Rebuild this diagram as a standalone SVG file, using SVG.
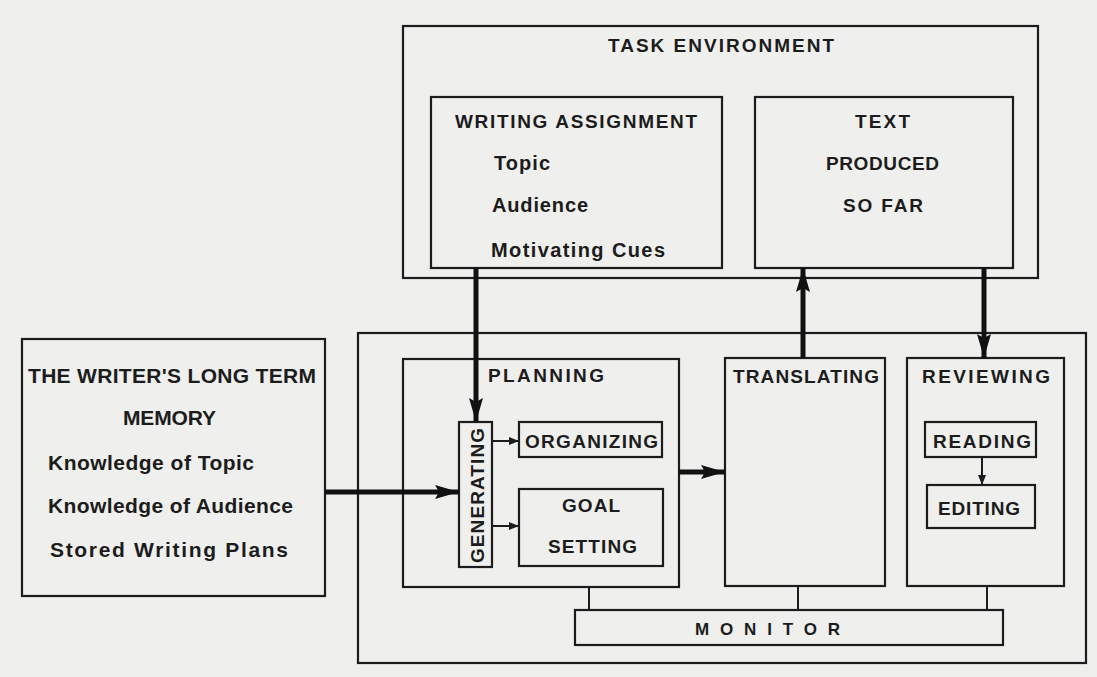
<svg xmlns="http://www.w3.org/2000/svg" width="1097" height="677" viewBox="0 0 1097 677">
<defs>
<style>
.bx{fill:none;stroke:#1c1c1c;stroke-width:2.2}
.t{font-family:"Liberation Sans",Arial,sans-serif;font-weight:bold;fill:#1c1c1c;font-size:19px}
.lc{font-size:20px}
.big{font-size:21px}
.sm{font-size:17px}
.thick{stroke:#111;stroke-width:5;fill:none}
.thin{stroke:#1c1c1c;stroke-width:2;fill:none}
</style>
<marker id="ah" markerUnits="userSpaceOnUse" viewBox="0 0 24 14" markerWidth="24" markerHeight="14" refX="24" refY="7" orient="auto">
<path d="M0,0 L24,7 L0,14 L4,7 z" fill="#111"/>
</marker>
<marker id="as" markerUnits="userSpaceOnUse" viewBox="0 0 10 8" markerWidth="10" markerHeight="8" refX="10" refY="4" orient="auto">
<path d="M0,0 L10,4 L0,8 z" fill="#1c1c1c"/>
</marker>
</defs>
<rect width="1097" height="677" fill="#efefed"/>

<g id="task-environment">
<rect class="bx" x="403" y="26" width="635" height="252"/>
<text class="t" x="608" y="52" textLength="226" lengthAdjust="spacing">TASK ENVIRONMENT</text>
</g>
<g id="writing-assignment">
<rect class="bx" x="431" y="97" width="291" height="171"/>
<text class="t" x="455" y="128" textLength="242" lengthAdjust="spacing">WRITING ASSIGNMENT</text>
<text class="t lc" x="494" y="170" textLength="56" lengthAdjust="spacing">Topic</text>
<text class="t lc" x="492" y="212" textLength="96" lengthAdjust="spacing">Audience</text>
<text class="t lc" x="491" y="257" textLength="174" lengthAdjust="spacing">Motivating Cues</text>
</g>
<g id="text-produced">
<rect class="bx" x="755" y="97" width="258" height="171"/>
<text class="t" x="855" y="128" textLength="55" lengthAdjust="spacing">TEXT</text>
<text class="t" x="826" y="170" textLength="113" lengthAdjust="spacing">PRODUCED</text>
<text class="t" x="843" y="212" textLength="80" lengthAdjust="spacing">SO FAR</text>
</g>
<g id="long-term-memory">
<rect class="bx" x="22" y="339" width="303" height="257"/>
<text class="t big" x="28" y="383" textLength="288" lengthAdjust="spacing">THE WRITER'S LONG TERM</text>
<text class="t big" x="123" y="425" textLength="93" lengthAdjust="spacing">MEMORY</text>
<text class="t big" x="48" y="470" textLength="206" lengthAdjust="spacing">Knowledge of Topic</text>
<text class="t big" x="48" y="513" textLength="245" lengthAdjust="spacing">Knowledge of Audience</text>
<text class="t big" x="50" y="557" textLength="238" lengthAdjust="spacing">Stored Writing Plans</text>
</g>
<g id="writing-process">
<rect class="bx" x="358" y="333" width="728" height="330"/>
</g>
<g id="planning">
<rect class="bx" x="403" y="359" width="276" height="228"/>
<text class="t" x="488" y="382" textLength="116" lengthAdjust="spacing">PLANNING</text>
</g>
<g id="generating">
<rect class="bx" x="459" y="422" width="33" height="145"/>
<text class="t" transform="translate(484,495.5) rotate(-90)" x="0" y="0" text-anchor="middle" textLength="135" lengthAdjust="spacing">GENERATING</text>
</g>
<g id="organizing">
<rect class="bx" x="519" y="422" width="143" height="35"/>
<text class="t" x="525" y="448" textLength="133" lengthAdjust="spacing">ORGANIZING</text>
</g>
<g id="goal-setting">
<rect class="bx" x="519" y="489" width="144" height="77"/>
<text class="t" x="562" y="512" textLength="58" lengthAdjust="spacing">GOAL</text>
<text class="t" x="548" y="553" textLength="89" lengthAdjust="spacing">SETTING</text>
</g>
<g id="translating">
<rect class="bx" x="725" y="358" width="160" height="228"/>
<text class="t" x="733" y="383" textLength="146" lengthAdjust="spacing">TRANSLATING</text>
</g>
<g id="reviewing">
<rect class="bx" x="907" y="358" width="157" height="228"/>
<text class="t" x="922" y="383" textLength="128" lengthAdjust="spacing">REVIEWING</text>
</g>
<g id="reading">
<rect class="bx" x="925" y="422" width="111" height="35"/>
<text class="t" x="933" y="448" textLength="98" lengthAdjust="spacing">READING</text>
</g>
<g id="editing">
<rect class="bx" x="927" y="485" width="108" height="43"/>
<text class="t" x="938" y="515" textLength="82" lengthAdjust="spacing">EDITING</text>
</g>
<g id="monitor">
<rect class="bx" x="575" y="610" width="428" height="35"/>
<text class="t sm" x="695" y="635" textLength="145" lengthAdjust="spacing">MONITOR</text>
</g>

<g id="connectors">
<line class="thick" x1="476" y1="268" x2="476" y2="422" marker-end="url(#ah)"/>
<line class="thick" x1="803" y1="358" x2="803" y2="268" marker-end="url(#ah)"/>
<line class="thick" x1="984" y1="268" x2="984" y2="358" marker-end="url(#ah)"/>
<line class="thick" x1="325" y1="492" x2="459" y2="492" marker-end="url(#ah)"/>
<line class="thick" x1="679" y1="472" x2="725" y2="472" marker-end="url(#ah)"/>
<line class="thin" x1="492" y1="441" x2="519" y2="441" marker-end="url(#as)"/>
<line class="thin" x1="492" y1="526" x2="519" y2="526" marker-end="url(#as)"/>
<line class="thin" x1="982" y1="457" x2="982" y2="485" marker-end="url(#as)"/>
<line class="thin" x1="589" y1="587" x2="589" y2="610"/>
<line class="thin" x1="798" y1="586" x2="798" y2="610"/>
<line class="thin" x1="987" y1="586" x2="987" y2="610"/>
</g>
</svg>
